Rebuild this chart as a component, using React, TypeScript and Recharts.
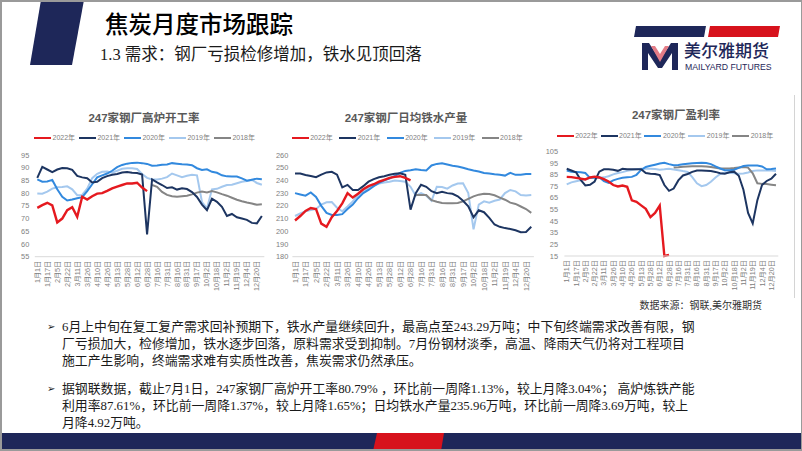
import React from "react";
import { LineChart, Line, XAxis, YAxis, Legend } from "recharts";

// weekly dates, every other one is shown on the axis
const dates = [
  "1月1日", "1月9日", "1月17日", "1月26日", "2月5日", "2月13日", "2月22日", "3月2日",
  "3月11日", "3月18日", "3月26日", "4月2日", "4月10日", "4月18日", "4月26日", "5月5日",
  "5月13日", "5月20日", "5月28日", "6月5日", "6月12日", "6月20日", "6月28日", "7月8日",
  "7月16日", "7月23日", "7月31日", "8月8日", "8月16日", "8月23日", "8月31日", "9月9日",
  "9月17日", "9月24日", "10月2日", "10月10日", "10月18日", "10月25日", "11月2日", "11月10日",
  "11月19日", "11月26日", "12月4日", "12月12日", "12月20日", "12月27日",
];

// 2018 series only starts in July
const start2018 = 23;

// 247家钢厂高炉开工率 (%)
const bfRate2022 = [74.2, 75.3, 76.2, 75.2, 68.5, 70, 73.3, 74.5, 70.7, 78.6, 77.5, 78.8, 79.8, 80, 80.9, 81.9, 82.6, 83.2, 83.8, 83.8, 84.1, 82.2, 80.8];
const bfRate2021 = [86, 90.3, 89.3, 88.3, 89.3, 89.9, 89.8, 89.2, 86.8, 86.2, 85.9, 84.2, 84.5, 85.9, 86.7, 87.2, 87.5, 88.1, 88.3, 88, 87.9, 87.3, 63.8, 85.4, 84.2, 83.2, 82, 82.3, 81.4, 81.9, 81.6, 80.4, 78.5, 75.5, 73.3, 77.8, 76.6, 74.6, 71, 71.8, 70.5, 70, 69.5, 68.3, 68.1, 71];
const bfRate2020 = [85.4, 84.5, 84.6, 85.2, 81.5, 78.6, 77.1, 77.5, 78, 78.4, 80.8, 83.5, 86.2, 87, 87.7, 88.8, 90.2, 91.1, 91.6, 91.9, 92, 91.8, 91.5, 90.8, 90.9, 91.2, 91.3, 91.8, 91.6, 91.4, 91.3, 91, 89.8, 89.1, 89.4, 88.4, 88, 87, 86.6, 86.5, 86.5, 85.8, 84.9, 85.3, 85.7, 85.5];
const bfRate2019 = [79.9, 79.8, 80.6, 81.8, 82.3, 82.4, 82.7, 81.5, 79.2, 79.3, 81.8, 85.9, 87.6, 88.4, 88.5, 88, 88.8, 89.6, 89.8, 89.8, 89.5, 87.5, 86, 85.4, 85.4, 85.7, 86.3, 87.7, 87, 86.3, 86.8, 87.2, 87, 76.5, 74, 81.5, 81.7, 82.5, 83.2, 83.3, 83.9, 84.5, 84.8, 85.2, 84, 83.3];
const bfRate2018 = [83.2, 82.5, 80.5, 79.3, 78.8, 78.6, 78.8, 79, 79.5, 80.2, 80.6, 80.3, 80.8, 80.3, 79.6, 79, 78.2, 77.4, 76.8, 76.3, 75.9, 75.4, 75.6];

// 247家钢厂日均铁水产量 (万吨)
const iron2022 = [208.5, 212, 216, 218.3, 217.5, 206, 203.5, 211, 216, 222, 230, 226.5, 229.5, 233, 235.5, 237, 239, 240.5, 242, 242.8, 243.3, 242, 240];
const iron2021 = [245.5, 245.5, 244.3, 243.5, 242.5, 244.5, 246.3, 246.8, 244.5, 234.5, 236.5, 232.5, 232.5, 235.5, 239, 241, 242.5, 243.3, 244.4, 245.3, 245.7, 244.5, 217, 230, 236.6, 235, 231.5, 230, 231, 230, 229.5, 227.5, 224, 219.6, 211, 216.5, 215, 210.5, 205.3, 203.5, 202.5, 201.8, 200.8, 199.3, 199.5, 203.5];
const iron2020 = [230, 229, 228, 230.5, 227, 220, 214.5, 212.8, 212.8, 213.5, 217.5, 221, 226, 230, 232.5, 235.5, 238, 240, 241.5, 243.5, 246, 247.5, 248, 248.8, 248.2, 247.8, 251.8, 253, 253.5, 252.5, 251.5, 251, 250, 248.8, 247.8, 247, 245.8, 245.4, 244.8, 244.4, 243.8, 246, 244.4, 244.5, 245, 245];
const iron2019 = [212, 214, 215.8, 216.8, 217.5, 221, 222.8, 223, 218.5, 215.7, 219.5, 223.5, 228.5, 231.5, 234, 236, 237.5, 238.4, 239, 240, 239.5, 239, 235, 228, 230, 228, 224, 235, 234.8, 233.5, 236, 237.6, 237.8, 230, 201.5, 221, 223.5, 222.5, 224, 225, 230, 232.5, 231.4, 228.5, 228.2, 228.5];
const iron2018 = [228.5, 228.5, 228.5, 224.5, 223.2, 222.3, 222, 222, 222.3, 223.5, 225.5, 227.5, 228.8, 229.6, 229.3, 228.3, 226.5, 224.8, 222.5, 221.5, 219.5, 217.5, 214.5];

// 247家钢厂盈利率 (%)
const profit2022 = [83, 82.8, 82.2, 81.5, 80.8, 82.5, 83.2, 82.5, 81, 79, 76, 74.8, 75.6, 74.5, 62.8, 61.5, 58.5, 55.5, 48.5, 52, 58.3, 15, 16];
const profit2021 = [90, 88.5, 87, 80.5, 75.6, 76.2, 79, 87.5, 89.5, 89.5, 89.2, 88.2, 90, 89.6, 89.6, 89.5, 89.5, 86.3, 85.8, 85.5, 84.5, 76, 71, 73, 80, 84.2, 85.5, 87.3, 88.5, 88.6, 88.3, 88, 87.3, 86.2, 85.7, 87, 87.5, 84, 72, 52, 43, 63, 76, 79.5, 81.5, 85.7];
const profit2020 = [88.5, 87.5, 87.1, 87, 86.3, 82.2, 82.3, 82.8, 79.3, 77.8, 80, 81.3, 82.2, 82.6, 83, 84.8, 89, 91.5, 92.5, 93.5, 94.5, 95.2, 94, 93, 93.3, 93.8, 94.3, 94.7, 95, 95.1, 94.9, 94, 92, 90.2, 88.8, 88.8, 89.2, 90.8, 92.3, 92.8, 92.9, 92.7, 92, 89.5, 89.8, 90.3];
const profit2019 = [76.5, 78.3, 79.2, 80, 81, 82, 82.2, 82.2, 82.6, 83.6, 85.2, 86.3, 87.1, 88.2, 89, 89.5, 90, 90, 90, 89.8, 89.2, 89.5, 90, 89.3, 88.8, 88, 87.3, 82.8, 77.5, 75, 76, 78.8, 82.5, 85.5, 86.6, 86.6, 86.2, 85.8, 86, 86.8, 88, 88.6, 88.6, 88.6, 88.5, 88];
const profit2018 = [91, 91.3, 91.7, 92, 92.1, 92.2, 92.2, 92, 91.5, 90.8, 90.2, 90.2, 90.3, 90.6, 91, 91.4, 91, 86, 77.5, 77, 76.8, 76.3, 75.8];

const bfTicks = [55, 60, 65, 70, 75, 80, 85, 90, 95];
const ironTicks = [180, 190, 200, 210, 220, 230, 240, 250, 260];
const profitTicks = [15, 25, 35, 45, 55, 65, 75, 85, 95, 105];

// legend order
const SERIES = [
  { key: "y2022", name: "2022年", color: "#E5191F", width: 2.4 },
  { key: "y2021", name: "2021年", color: "#1D3561", width: 2 },
  { key: "y2020", name: "2020年", color: "#3289DE", width: 2 },
  { key: "y2019", name: "2019年", color: "#A4C8EE", width: 2 },
  { key: "y2018", name: "2018年", color: "#858585", width: 2 },
];
// bottom to top
const DRAW_ORDER = ["y2019", "y2018", "y2020", "y2021", "y2022"];

const NAVY = "#1E2759";
const RED = "#D7121C";
const CHART_FONT = '"Liberation Sans", "Noto Sans CJK SC", sans-serif';
const BODY_FONT = '"Liberation Serif", "Noto Sans CJK SC", serif';

function buildRows(s22: number[], s21: number[], s20: number[], s19: number[], s18: number[]) {
  return dates.map((date, i) => ({
    date,
    y2022: s22[i] ?? null,
    y2021: s21[i] ?? null,
    y2020: s20[i] ?? null,
    y2019: s19[i] ?? null,
    y2018: i >= start2018 ? s18[i - start2018] ?? null : null,
  }));
}

const DateTick = (props: any) => {
  const { x, y, payload } = props;
  return (
    <text
      x={x}
      y={y}
      transform={`rotate(-90 ${x} ${y})`}
      textAnchor="end"
      dominantBaseline="central"
      fontSize={7.2}
      fill="#808080"
    >
      {payload.value}
    </text>
  );
};

function LegendRow({ gap }: { gap: number }) {
  return (
    <div style={{ display: "flex", alignItems: "center", height: 12, whiteSpace: "nowrap" }}>
      {SERIES.map((s) => (
        <div key={s.key} style={{ display: "flex", alignItems: "center", marginRight: gap }}>
          <span
            style={{
              display: "inline-block",
              width: 17,
              height: 0,
              borderTop: `${s.width + 0.3}px solid ${s.color}`,
              marginRight: 1.5,
            }}
          />
          <span style={{ fontSize: 7, color: "#7F7F7F", lineHeight: "12px" }}>{s.name}</span>
        </div>
      ))}
    </div>
  );
}

interface SeasonChartProps {
  rows: any[];
  ticks: number[];
  left: number;
  width: number;
  yAxisW: number;
  marginTop: number;
  marginRight: number;
  marginBottom: number;
  pad: number;
  tickGap: number;
  legendLeft: number;
  legendTop: number;
  legendGap: number;
}

function SeasonChart(p: SeasonChartProps) {
  return (
    <div style={{ position: "absolute", left: p.left, top: 128, fontFamily: CHART_FONT }}>
      <LineChart
        width={p.width}
        height={172}
        data={p.rows}
        margin={{ top: p.marginTop, right: p.marginRight, bottom: p.marginBottom, left: 0 }}
      >
        <XAxis
          dataKey="date"
          interval={1}
          tickLine={false}
          tickSize={0}
          tickMargin={4}
          height={40}
          axisLine={{ stroke: "#D9D9D9" }}
          padding={{ left: p.pad, right: p.pad }}
          tick={DateTick}
        />
        <YAxis
          type="number"
          width={p.yAxisW}
          domain={[p.ticks[0], p.ticks[p.ticks.length - 1]]}
          ticks={p.ticks}
          interval={0}
          axisLine={false}
          tickLine={false}
          tickSize={0}
          tickMargin={p.tickGap}
          tick={{ fill: "#808080", fontSize: 7.4 }}
        />
        <Legend
          verticalAlign="middle"
          align="center"
          wrapperStyle={{ top: p.legendTop, left: p.legendLeft, width: "auto" }}
          content={() => <LegendRow gap={p.legendGap} />}
        />
        {DRAW_ORDER.map((k) => {
          const s = SERIES.find((x) => x.key === k)!;
          return (
            <Line
              key={s.key}
              type="linear"
              dataKey={s.key}
              name={s.name}
              stroke={s.color}
              strokeWidth={s.width}
              dot={false}
              activeDot={false}
              isAnimationActive={false}
            />
          );
        })}
      </LineChart>
    </div>
  );
}

const chartTitle = (text: string, cx: number, cy: number) => (
  <div
    style={{
      position: "absolute",
      left: cx - 100,
      top: cy - 8,
      width: 200,
      textAlign: "center",
      fontFamily: CHART_FONT,
      fontWeight: 700,
      fontSize: 11.5,
      lineHeight: "16px",
      color: "#595959",
    }}
  >
    {text}
  </div>
);

const bodyLine = (text: string, cy: number) => (
  <div
    style={{
      position: "absolute",
      left: 62,
      top: cy - 9,
      whiteSpace: "nowrap",
      fontFamily: BODY_FONT,
      fontSize: 12.85,
      lineHeight: "18px",
      color: "#1a1a1a",
    }}
  >
    {text}
  </div>
);

const bullet = (cy: number) => (
  <div
    style={{
      position: "absolute",
      left: 47,
      top: cy - 8,
      fontFamily: '"DejaVu Sans", sans-serif',
      fontSize: 10,
      lineHeight: "16px",
      color: "#1a1a1a",
    }}
  >
    ➢
  </div>
);

export default function App() {
  const bfRows = buildRows(bfRate2022, bfRate2021, bfRate2020, bfRate2019, bfRate2018);
  const ironRows = buildRows(iron2022, iron2021, iron2020, iron2019, iron2018);
  const profitRows = buildRows(profit2022, profit2021, profit2020, profit2019, profit2018);

  return (
    <div
      style={{
        position: "absolute",
        left: 0,
        top: 0,
        width: 802,
        height: 451,
        background: "#fff",
        overflow: "hidden",
      }}
    >
      {/* header */}
      <div
        style={{
          position: "absolute",
          left: 0,
          top: 0,
          width: 802,
          height: 70,
          background: NAVY,
          clipPath: "polygon(41px 0, 84px 0, 72px 65px, 30px 65px)",
        }}
      />
      <div
        style={{
          position: "absolute",
          left: 105,
          top: 8,
          fontFamily: '"Noto Sans CJK SC", sans-serif',
          fontWeight: 500,
          fontSize: 23.5,
          lineHeight: "30px",
          color: "#000",
        }}
      >
        焦炭月度市场跟踪
      </div>
      <div
        style={{
          position: "absolute",
          left: 100,
          top: 44,
          fontFamily: BODY_FONT,
          fontSize: 16.5,
          lineHeight: "22px",
          color: "#1a1a1a",
          whiteSpace: "nowrap",
        }}
      >
        1.3 需求：钢厂亏损检修增加，铁水见顶回落
      </div>

      {/* logo */}
      <div
        style={{
          position: "absolute",
          left: 0,
          top: 0,
          width: 802,
          height: 40,
          background: NAVY,
          clipPath: "polygon(636px 26px, 706px 26px, 704px 37px, 634px 37px)",
        }}
      />
      <div
        style={{
          position: "absolute",
          left: 0,
          top: 0,
          width: 802,
          height: 40,
          background: RED,
          clipPath: "polygon(710px 26px, 780px 26px, 778px 37px, 708px 37px)",
        }}
      />
      <svg style={{ position: "absolute", left: 642, top: 43 }} width={38} height={28}>
        <polygon points="0,27 0,0 7,0 18,17 29,0 36,0 36,27 30,27 30,10 20,25 16,25 6,10 6,27" fill={NAVY} />
        <polygon points="9,3 13,3 18,11 23,3 27,3 18,19" fill="#E37C86" />
      </svg>
      <div
        style={{
          position: "absolute",
          left: 684,
          top: 41,
          fontFamily: '"Noto Sans CJK SC", sans-serif',
          fontWeight: 500,
          fontSize: 17,
          lineHeight: "17px",
          color: NAVY,
          whiteSpace: "nowrap",
        }}
      >
        美尔雅期货
      </div>
      <div
        style={{
          position: "absolute",
          left: 685,
          top: 63,
          fontFamily: '"Liberation Sans", sans-serif',
          fontSize: 8.7,
          lineHeight: "8px",
          color: NAVY,
          whiteSpace: "nowrap",
        }}
      >
        MAILYARD FUTURES
      </div>

      {/* charts */}
      {chartTitle("247家钢厂高炉开工率", 144, 118)}
      {chartTitle("247家钢厂日均铁水产量", 406, 118)}
      {chartTitle("247家钢厂盈利率", 676, 115)}

      <SeasonChart
        rows={bfRows}
        ticks={bfTicks}
        left={0}
        width={270}
        yAxisW={34.8}
        marginTop={27}
        marginRight={5.65}
        marginBottom={3.3}
        pad={2.495}
        tickGap={5.5}
        legendLeft={34}
        legendTop={4.3}
        legendGap={3.9}
      />
      <SeasonChart
        rows={ironRows}
        ticks={ironTicks}
        left={262}
        width={278}
        yAxisW={30.4}
        marginTop={27}
        marginRight={6.1}
        marginBottom={3.3}
        pad={2.625}
        tickGap={4.1}
        legendLeft={29.7}
        legendTop={4.3}
        legendGap={6.4}
      />
      <SeasonChart
        rows={profitRows}
        ticks={profitTicks}
        left={537}
        width={263}
        yAxisW={27.4}
        marginTop={23.3}
        marginRight={21.7}
        marginBottom={4}
        pad={2.325}
        tickGap={6.4}
        legendLeft={19.7}
        legendTop={2}
        legendGap={2.8}
      />
      <div style={{ position: "absolute", left: 794, top: 95, width: 1, height: 203, background: "#D4D4D4" }} />

      <div
        style={{
          position: "absolute",
          right: 802 - 762,
          top: 299,
          fontFamily: BODY_FONT,
          fontSize: 10,
          lineHeight: "14px",
          color: "#333",
          whiteSpace: "nowrap",
        }}
      >
        数据来源：钢联,美尔雅期货
      </div>

      {/* commentary */}
      {bullet(327)}
      {bodyLine("6月上中旬在复工复产需求回补预期下，铁水产量继续回升，最高点至243.29万吨；中下旬终端需求改善有限，钢", 327)}
      {bodyLine("厂亏损加大，检修增加，铁水逐步回落，原料需求受到抑制。7月份钢材淡季，高温、降雨天气仍将对工程项目", 344)}
      {bodyLine("施工产生影响，终端需求难有实质性改善，焦炭需求仍然承压。", 361)}
      {bullet(389)}
      {bodyLine("据钢联数据，截止7月1日，247家钢厂高炉开工率80.79% ，环比前一周降1.13%，较上月降3.04%； 高炉炼铁产能", 389)}
      {bodyLine("利用率87.61%，环比前一周降1.37%，较上月降1.65%；日均铁水产量235.96万吨，环比前一周降3.69万吨，较上", 406)}
      {bodyLine("月降4.92万吨。", 423)}

      {/* footer band */}
      <div style={{ position: "absolute", left: 0, top: 433, width: 802, height: 18, background: NAVY }} />
      <div
        style={{
          position: "absolute",
          left: 0,
          top: 433,
          width: 802,
          height: 18,
          background: RED,
          clipPath: "polygon(377px 0, 444px 0, 441px 18px, 373px 18px)",
        }}
      />

      {/* slide frame */}
      <div
        style={{
          position: "absolute",
          left: 0,
          top: 0,
          width: 802,
          height: 451,
          boxSizing: "border-box",
          border: "2px solid #9A9A9A",
          borderRight: "1px solid #9A9A9A",
          pointerEvents: "none",
        }}
      />
    </div>
  );
}
